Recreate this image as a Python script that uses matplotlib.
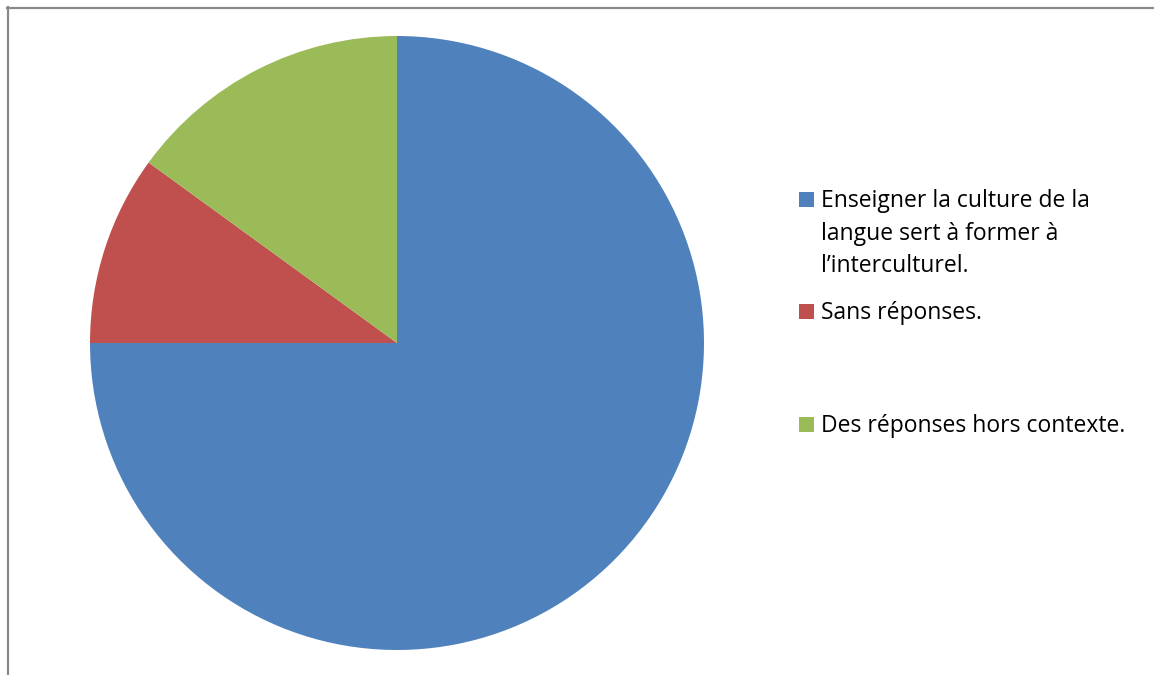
import matplotlib
matplotlib.use("Agg")
import matplotlib.pyplot as plt
from matplotlib.patches import Rectangle
from matplotlib.lines import Line2D

labels = ["Enseigner la culture de la\nlangue sert à former à\nl\u2019interculturel.",
          "Sans réponses.",
          "Des réponses hors contexte."]
values = [75, 10, 15]
colors = ["#4F81BD", "#C0504D", "#9BBB59"]

W, H = 1154, 675
fig = plt.figure(figsize=(W / 100, H / 100), dpi=100)
fig.patch.set_facecolor("white")

cx, cy, r = 397, 343, 307
ax = fig.add_axes([(cx - r) / W, (H - cy - r) / H, 2 * r / W, 2 * r / H])
ax.pie(values, colors=colors, startangle=90, counterclock=False,
       radius=1, wedgeprops=dict(linewidth=0))
ax.set_xlim(-1, 1)
ax.set_ylim(-1, 1)
ax.set_aspect("auto")
ax.axis("off")

# frame lines (top and left)
fig.add_artist(Line2D([7 / W, 1], [1 - 7.5 / H, 1 - 7.5 / H], color="#898989", lw=1.6,
                      transform=fig.transFigure))
fig.add_artist(Line2D([7.5 / W, 7.5 / W], [0, 1 - 7 / H], color="#898989", lw=1.6,
                      transform=fig.transFigure))

# legend
baselines = [207, 319, 432]
sq = 15
line_gap = 32.5
for lab, col, yb in zip(labels, colors, baselines):
    fig.add_artist(Rectangle((799 / W, (H - yb) / H), sq / W, sq / H,
                             facecolor=col, edgecolor="none", transform=fig.transFigure))
    for i, line in enumerate(lab.split("\n")):
        fig.text(821 / W, (H - yb - i * line_gap) / H, line, fontsize=16.5,
                 family=["Open Sans", "DejaVu Sans"], va="baseline", ha="left", color="black")

fig.savefig("out.png", dpi=100)
